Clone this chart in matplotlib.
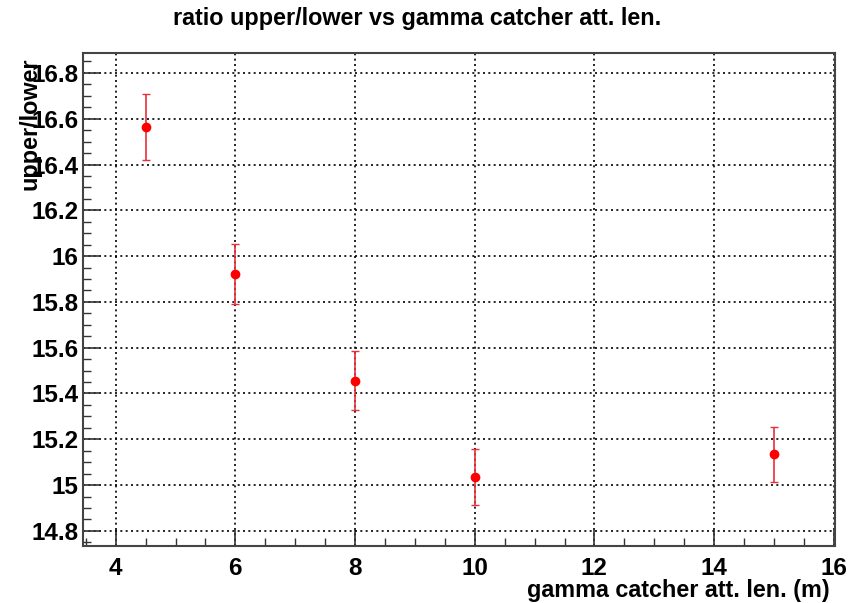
import matplotlib.pyplot as plt
from matplotlib.ticker import MultipleLocator

# upper/lower ratio for each gamma catcher attenuation length
att_len = [4.5, 6, 8, 10, 15]
ratio = [16.565, 15.921, 15.456, 15.035, 15.134]
ratio_err = [0.145, 0.132, 0.129, 0.123, 0.120]

plt.rcParams['font.family'] = ['Liberation Sans', 'DejaVu Sans']
plt.rcParams['font.weight'] = 'bold'

fig = plt.figure(figsize=(8.52, 6.03), dpi=100)
ax = fig.add_axes([83 / 852, 1 - 546 / 603, (835 - 83) / 852, (546 - 53) / 603])

ax.errorbar(att_len, ratio, yerr=ratio_err, fmt='o', color='#ff0000',
            markersize=6, elinewidth=1.2, capsize=3, capthick=1, ecolor='#e8303a')

ax.set_xlim(3.454, 16.02)
ax.set_ylim(14.734, 16.887)

ax.xaxis.set_major_locator(MultipleLocator(2))
ax.xaxis.set_minor_locator(MultipleLocator(0.5))
ax.yaxis.set_minor_locator(MultipleLocator(0.05))
ax.set_yticks([14.8, 15, 15.2, 15.4, 15.6, 15.8, 16, 16.2, 16.4, 16.6, 16.8])
ax.set_yticklabels(['14.8', '15', '15.2', '15.4', '15.6', '15.8', '16', '16.2',
                    '16.4', '16.6', '16.8'])

ax.tick_params(which='both', direction='in', top=False, right=False,
               labelsize=17.5, color='#333333')
ax.tick_params(which='major', length=12, width=1.2)
ax.tick_params(which='minor', length=6, width=1.0)
ax.tick_params(axis='x', pad=8)
ax.tick_params(axis='y', pad=3)

ax.grid(True, which='major', color='black', linestyle=(0, (1.2, 2.0)), linewidth=1.2)
for s in ax.spines.values():
    s.set_color('#444444')
    s.set_linewidth(1.5)

fig.text(417 / 852, 1 - 18 / 603, 'ratio upper/lower vs gamma catcher att. len.',
         ha='center', va='center', fontsize=16.8, fontweight='bold')
fig.text(830 / 852, 1 - 591 / 603, 'gamma catcher att. len. (m)',
         ha='right', va='center', fontsize=16.8, fontweight='bold')
fig.text(30 / 852, 1 - 58 / 603, 'upper/lower', rotation=90,
         ha='center', va='top', fontsize=16.8, fontweight='bold')

fig.savefig('out.png', dpi=100)
